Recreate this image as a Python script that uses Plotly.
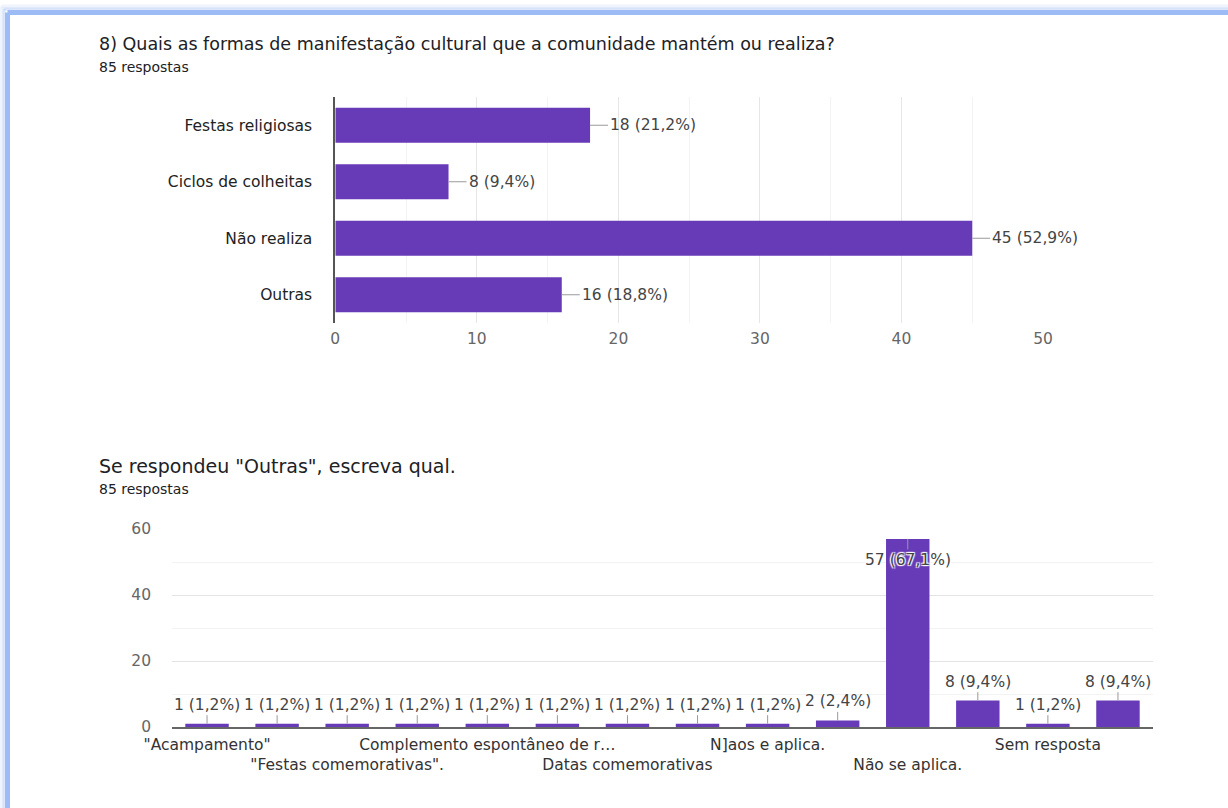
import plotly.graph_objects as go

W, H = 1228, 808
FONT = "DejaVu Sans"
PURPLE = "#673ab7"

# Question 8: multiple choice answers
q8_title = "8) Quais as formas de manifestação cultural que a comunidade mantém ou realiza?"
q8_categories = ["Festas religiosas", "Ciclos de colheitas", "Não realiza", "Outras"]
q8_counts = [18, 8, 45, 16]
q8_ticks = [0, 10, 20, 30, 40, 50]

# Follow-up question: free-text answers grouped
other_title = 'Se respondeu "Outras", escreva qual.'
other_counts = [1, 1, 1, 1, 1, 1, 1, 1, 1, 2, 57, 8, 1, 8]
other_label_pos = [0, 2, 4, 6, 8, 10, 12]
other_labels = ['"Acampamento"', '"Festas comemorativas".', "Complemento espontâneo de r…",
                "Datas comemorativas", "N]aos e aplica.", "Não se aplica.", "Sem resposta"]
other_yticks = [0, 20, 40, 60]

total_responses = 85


def px_x(px):
    return px / W


def px_y(py):
    return 1 - py / H


def value_label(v):
    pct = f"{v / total_responses * 100:.1f}".replace(".", ",")
    return f"{v} ({pct}%)"


fig = go.Figure()

# Horizontal bars for question 8
fig.add_trace(go.Bar(
    x=q8_counts, y=q8_categories, orientation="h",
    marker=dict(color=PURPLE, line=dict(width=0)),
    xaxis="x", yaxis="y", hoverinfo="x+y",
))

# Vertical bars for the follow-up answers
other_x = list(range(len(other_counts)))
fig.add_trace(go.Bar(
    x=other_x, y=other_counts,
    marker=dict(color=PURPLE, line=dict(width=0)),
    xaxis="x2", yaxis="y2", hoverinfo="y",
))

annotations = []

# Value labels with short leader lines
for cat, v in zip(q8_categories, q8_counts):
    annotations.append(dict(
        x=v, y=cat, xref="x", yref="y", text=value_label(v),
        showarrow=True, arrowhead=0, arrowwidth=1, arrowcolor="#9a9a9a",
        ax=18, ay=0, xanchor="left", standoff=0,
        font=dict(family=FONT, size=15.5, color="#444"),
    ))

for i, v in zip(other_x, other_counts):
    inside = v > 50
    annotations.append(dict(
        x=i, y=v, xref="x2", yref="y2", text=value_label(v),
        showarrow=True, arrowhead=0, arrowwidth=1, arrowcolor="#9a9a9a",
        ax=0, ay=21 if inside else -19, standoff=0,
        font=dict(family=FONT, size=15.5, color="#444",
                  shadow="1px 1px 1px #fff, -1px -1px 1px #fff, 1px -1px 1px #fff, -1px 1px 1px #fff"
                  if inside else "none"),
    ))

# Headings
for text, py, size in [
    (q8_title, 44, 17.5),
    ("85 respostas", 67, 14),
    (other_title, 466, 19),
    ("85 respostas", 489, 14),
]:
    annotations.append(dict(
        x=px_x(97), y=px_y(py), xref="paper", yref="paper", text=text,
        showarrow=False, xanchor="left", yanchor="middle",
        font=dict(family=FONT, size=size, color="#202124"),
    ))

# Soft blue frame along top and left edges
frame_color = "#9dbcf5"
shapes = []
for offset, width, opacity in [(-6, 4, 0.15), (-3.5, 3, 0.35), (0, 5, 1.0)]:
    shapes.append(dict(type="line", xref="paper", yref="paper",
                       x0=px_x(7.5 + offset), x1=1.0,
                       y0=px_y(12.5 + offset), y1=px_y(12.5 + offset),
                       line=dict(color=frame_color, width=width), opacity=opacity))
    shapes.append(dict(type="line", xref="paper", yref="paper",
                       x0=px_x(7.5 + offset), x1=px_x(7.5 + offset),
                       y0=px_y(12.5 + offset), y1=0.0,
                       line=dict(color=frame_color, width=width), opacity=opacity))

ticktext = [("<br>" + t) if k % 2 == 1 else t for k, t in enumerate(other_labels)]

fig.update_layout(
    width=W, height=H,
    margin=dict(l=0, r=0, t=0, b=0, autoexpand=False),
    paper_bgcolor="white", plot_bgcolor="white",
    showlegend=False,
    bargap=0.38,
    font=dict(family=FONT, color="#444"),
    annotations=annotations,
    shapes=shapes,
    xaxis=dict(
        domain=[px_x(335.3), px_x(1043)], anchor="y",
        range=[0, 50], tickvals=q8_ticks,
        showgrid=True, gridcolor="#e6e6e6", gridwidth=1,
        minor=dict(dtick=5, showgrid=True, gridcolor="#f3f3f3", gridwidth=1),
        zeroline=False, showline=False, ticks="",
        tickfont=dict(family=FONT, size=15.5, color="#666"),
        ticklabelstandoff=4, automargin=False, tickangle=0, fixedrange=True,
    ),
    yaxis=dict(
        domain=[px_y(323), px_y(97)], anchor="x",
        type="category", categoryorder="array", categoryarray=q8_categories,
        autorange="reversed",
        showgrid=False, zeroline=False,
        showline=True, linecolor="#555", linewidth=2,
        ticks="", ticklabelstandoff=18, automargin=False,
        tickfont=dict(family=FONT, size=15.5, color="#222"),
        fixedrange=True,
    ),
    xaxis2=dict(
        domain=[px_x(172), px_x(1153)], anchor="y2",
        range=[-0.5, len(other_counts) - 0.5],
        tickvals=other_label_pos, ticktext=ticktext,
        showgrid=False, zeroline=False,
        showline=True, linecolor="#666", linewidth=2,
        ticks="", ticklabelstandoff=2, automargin=False, tickangle=0,
        tickfont=dict(family=FONT, size=15.5, color="#333"),
        fixedrange=True,
    ),
    yaxis2=dict(
        domain=[px_y(727), px_y(529)], anchor="x2",
        range=[0, 60], tickvals=other_yticks,
        showgrid=True, gridcolor="#e3e3e3", gridwidth=1,
        minor=dict(dtick=10, showgrid=True, gridcolor="#f3f3f3", gridwidth=1),
        zeroline=False, showline=False, ticks="",
        ticklabelstandoff=20, automargin=False,
        tickfont=dict(family=FONT, size=15.5, color="#666"),
        fixedrange=True,
    ),
)

fig.write_html("out.html")
